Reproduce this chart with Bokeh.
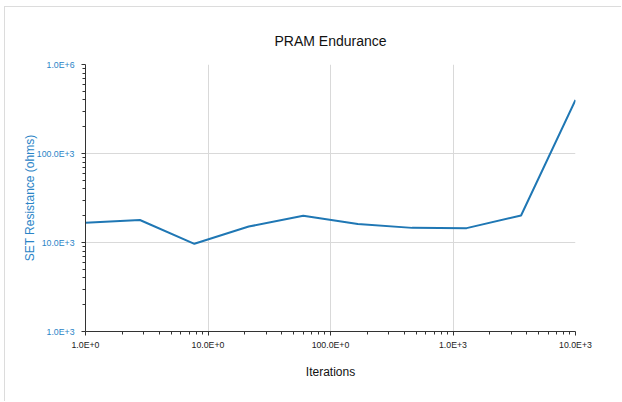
from bokeh.plotting import figure
from bokeh.models import FixedTicker, Range1d
from bokeh.embed import file_html
from bokeh.resources import INLINE

# PRAM endurance measurements: cycle count vs. SET-state resistance
iterations = [1, 2.78, 7.74, 21.5, 59.9, 167, 464, 1292, 3594, 10000]
resistance = [16700, 17900, 9670, 15100, 19950, 16100, 14600, 14500, 20100, 400000]

x_ticks = [1, 10, 100, 1000, 10000]
x_tick_labels = ["1.0E+0", "10.0E+0", "100.0E+0", "1.0E+3", "10.0E+3"]
y_ticks = [1000, 10000, 100000, 1000000]
y_tick_labels = ["1.0E+3", "10.0E+3", "100.0E+3", "1.0E+6"]

LINE_BLUE = "#1f77b4"
AXIS_BLUE = "#2a84c6"
FONT = "Liberation Sans"

p = figure(
    width=617, height=395,
    x_axis_type="log", y_axis_type="log",
    x_range=Range1d(1, 10000), y_range=Range1d(1000, 1000000),
    output_backend="svg", toolbar_location=None,
    min_border_left=80, min_border_right=47,
    min_border_top=57, min_border_bottom=71,
    title="PRAM Endurance",
)
p.margin = (6, 0, 0, 4)
p.styles = {"border-left": "1px solid #dcdcdc", "border-top": "1px solid #dcdcdc"}
p.outline_line_color = None
p.background_fill_color = "white"
p.border_fill_color = "white"

p.title.align = "center"
p.title.text_font = FONT
p.title.text_font_size = "14px"
p.title.text_font_style = "normal"
p.title.text_color = "#111111"
p.title.standoff = 31

minor = lambda ticks: [m * t for t in ticks[:-1] for m in range(2, 10)]

xt = FixedTicker(ticks=x_ticks, minor_ticks=minor(x_ticks))
yt = FixedTicker(ticks=y_ticks, minor_ticks=minor(y_ticks))
p.xaxis.ticker = xt
p.yaxis.ticker = yt
p.xgrid.ticker = xt
p.ygrid.ticker = yt
p.xaxis.major_label_overrides = dict(zip(x_ticks, x_tick_labels))
p.yaxis.major_label_overrides = dict(zip(y_ticks, y_tick_labels))

for ax in (p.xaxis, p.yaxis):
    ax.axis_line_color = "#333333"
    ax.axis_line_width = 1
    ax.major_tick_line_color = "#333333"
    ax.minor_tick_line_color = "#333333"
    ax.major_tick_in = 0
    ax.major_tick_out = 4
    ax.minor_tick_in = 0
    ax.minor_tick_out = 3
    ax.major_label_text_font = FONT
    ax.major_label_text_font_size = "8.75px"
    ax.axis_label_text_font = FONT
    ax.axis_label_text_font_size = "12px"
    ax.axis_label_text_font_style = "normal"

p.xaxis.axis_label = "Iterations"
p.xaxis.major_label_text_color = "#222222"
p.xaxis.axis_label_text_color = "#111111"
p.xaxis.major_label_standoff = 4
p.xaxis.axis_label_standoff = 12

p.yaxis.axis_label = "SET Resistance (ohms)"
p.yaxis.major_label_text_color = AXIS_BLUE
p.yaxis.axis_label_text_color = AXIS_BLUE
p.yaxis.major_label_standoff = 7
p.yaxis.axis_label_standoff = -3

for g in (p.xgrid, p.ygrid):
    g.grid_line_color = "#d9d9d9"
    g.grid_line_width = 1

p.line(iterations, resistance, line_color=LINE_BLUE, line_width=2)

open("out.html", "w").write(file_html(p, INLINE))
